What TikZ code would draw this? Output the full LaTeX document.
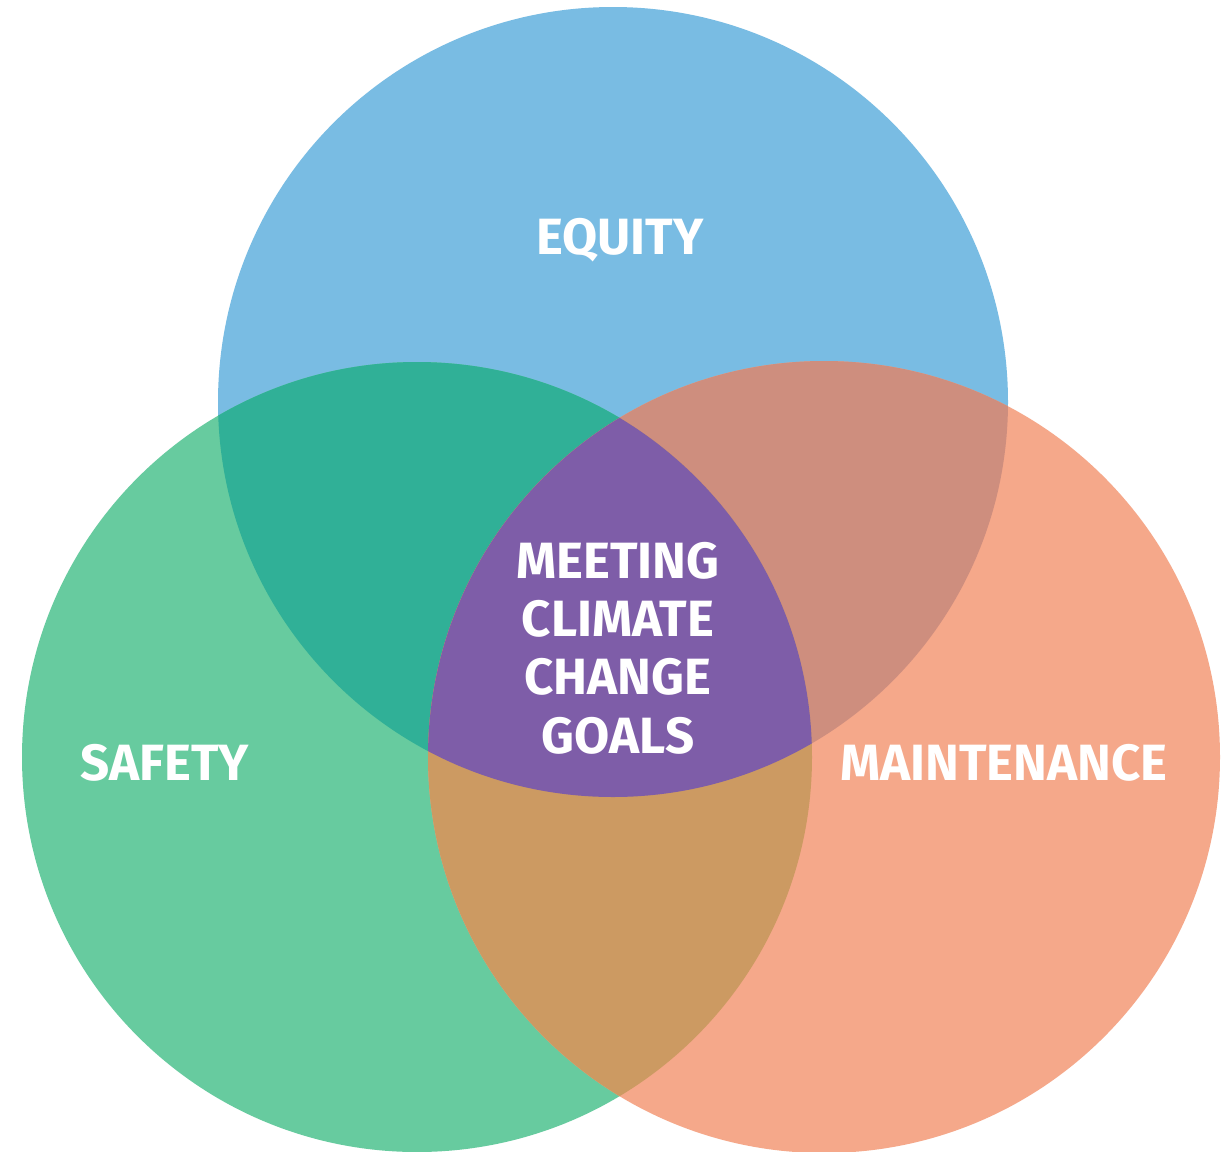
\documentclass[tikz,border=0pt]{standalone}
\usepackage{fontspec}
\setmainfont{Fira Sans}
\definecolor{eqblue}{HTML}{79BCE3}
\definecolor{sfgreen}{HTML}{67CB9F}
\definecolor{mnorange}{HTML}{F5A88A}
\definecolor{eqsf}{HTML}{30B097}
\definecolor{eqmn}{HTML}{CE8E7E}
\definecolor{sfmn}{HTML}{CC9A62}
\definecolor{goalpurple}{HTML}{7E5DA8}
\tikzset{lbl/.style={text=white,font=\fontsize{14.5}{16.6}\selectfont\bfseries,align=center}}
\begin{document}
\begin{tikzpicture}[x=0.01cm,y=-0.01cm]
                \useasboundingbox (0,0) rectangle (1227,1151);
                \fill[white] (0,0) rectangle (1227,1151);
                \def\eqc{(613,402) circle (395)}
                \def\sfc{(417,757) circle (395)}
                \def\mnc{(824,757) circle (396)}
                % the three circles
                \fill[eqblue] \eqc;
                \fill[sfgreen] \sfc;
                \fill[mnorange] \mnc;
                % pairwise overlaps
                \begin{scope}
                    \clip \eqc;
                    \fill[eqsf] \sfc;
                    \fill[eqmn] \mnc;
                \end{scope}
                \begin{scope}
                    \clip \sfc;
                    \fill[sfmn] \mnc;
                \end{scope}
                % centre
                \begin{scope}
                    \clip \eqc;
                    \clip \sfc;
                    \fill[goalpurple] \mnc;
                \end{scope}
                \node[lbl] (equity) at (620,240) {EQUITY};
                \node[lbl] (safety) at (165,763) {SAFETY};
                \node[lbl] (maint) at (1004,763) {MAINTENANCE};
                \node[lbl] (goals) at (618,648) {MEETING\\CLIMATE\\CHANGE\\GOALS};
            \end{tikzpicture}
\end{document}
